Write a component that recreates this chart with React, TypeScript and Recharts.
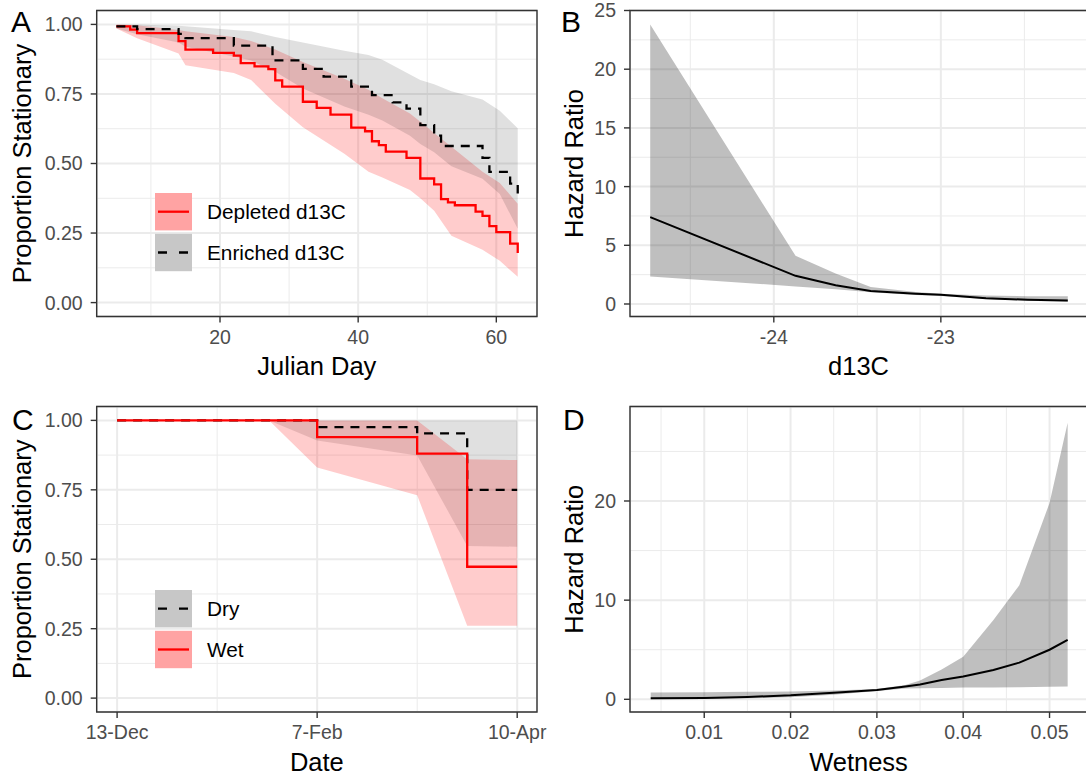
import React from 'react';
import {
  ComposedChart,
  Line,
  Area,
  XAxis,
  YAxis,
  CartesianGrid,
  ReferenceArea,
  Legend,
  Label,
} from 'recharts';

const FONT = '"Liberation Sans", Arial, Helvetica, sans-serif';

// ---------------- Panel A : Kaplan-Meier by d13C ----------------
const aDepletedDays = [5, 7, 8, 14, 15, 19, 22, 23, 25, 27, 28, 29, 32, 34, 36, 39, 41, 42, 43, 44, 47, 49, 51, 52, 53, 54, 57, 58, 59, 60, 62, 63.1];
const aDepletedSurv = [0.993, 0.981, 0.969, 0.94, 0.909, 0.898, 0.888, 0.861, 0.849, 0.839, 0.799, 0.776, 0.722, 0.7, 0.676, 0.629, 0.616, 0.58, 0.566, 0.543, 0.52, 0.446, 0.425, 0.372, 0.36, 0.35, 0.327, 0.312, 0.275, 0.253, 0.212, 0.178];
const aEnrichedDays = [5, 8, 14, 15, 22, 27.6, 32, 35, 39, 42, 45, 47, 49, 51, 52, 58, 59, 62, 63.1];
const aEnrichedSurv = [0.993, 0.983, 0.966, 0.951, 0.924, 0.871, 0.84, 0.812, 0.776, 0.746, 0.72, 0.697, 0.638, 0.6, 0.563, 0.52, 0.47, 0.428, 0.392];
const aBandDays = [5, 8, 14, 15, 22, 24.5, 28, 32, 38, 41.5, 43.5, 47.5, 49, 51, 53.5, 58, 60.5, 63.1];
const aDepletedHi = [1.0, 0.997, 0.98, 0.975, 0.955, 0.94, 0.91, 0.865, 0.805, 0.765, 0.735, 0.68, 0.65, 0.61, 0.56, 0.47, 0.43, 0.355];
const aDepletedLo = [0.985, 0.95, 0.895, 0.853, 0.825, 0.8, 0.715, 0.63, 0.535, 0.47, 0.45, 0.405, 0.375, 0.33, 0.24, 0.19, 0.15, 0.093];
const aEnrichedHi = [1.0, 1.0, 0.995, 0.993, 0.98, 0.975, 0.955, 0.935, 0.905, 0.89, 0.873, 0.82, 0.8, 0.785, 0.76, 0.73, 0.69, 0.627];
const aEnrichedLo = [0.985, 0.965, 0.935, 0.92, 0.885, 0.87, 0.83, 0.77, 0.705, 0.675, 0.655, 0.6, 0.57, 0.54, 0.49, 0.445, 0.39, 0.265];
const aXTicks = [20, 40, 60];
const aYTicks = [0, 0.25, 0.5, 0.75, 1];

// ---------------- Panel B : hazard ratio vs d13C ----------------
const bD13C = [-24.74, -23.87, -23.63, -23.42, -23.15, -23.0, -22.73, -22.48, -22.24];
const bHazard = [7.4, 2.4, 1.6, 1.1, 0.88, 0.78, 0.5, 0.36, 0.3];
const bHazardHi = [23.8, 4.1, 2.6, 1.45, 1.02, 0.88, 0.72, 0.66, 0.65];
const bHazardLo = [2.35, 1.5, 1.25, 1.0, 0.76, 0.68, 0.42, 0.28, 0.2];
const bXTicks = [-24, -23];
const bYTicks = [0, 5, 10, 15, 20, 25];

// ---------------- Panel C : Kaplan-Meier by wetness class ----------------
const cDateLabels = ['13-Dec', '7-Feb', '10-Apr'];
const cDateTicks = [0, 2, 4];
const cStepX = [0, 2, 3, 3.5, 4];
const cDrySurv = [1, 0.976, 0.953, 0.75, 0.75];
const cWetSurv = [1, 0.94, 0.88, 0.473, 0.473];
const cBandX = [0, 1.52, 2, 3, 3.5, 4];
const cDryHi = [1, 1, 1, 1, 1, 1];
const cDryLo = [1, 1, 0.928, 0.874, 0.548, 0.545];
const cWetHi = [1, 1, 1, 1, 0.86, 0.857];
const cWetLo = [1, 1, 0.83, 0.73, 0.261, 0.261];

// ---------------- Panel D : hazard ratio vs wetness ----------------
const dWetness = [0.0038, 0.01, 0.015, 0.02, 0.025, 0.03, 0.0333, 0.035, 0.0375, 0.04, 0.0435, 0.0465, 0.05, 0.0521];
const dHazard = [0.1, 0.14, 0.24, 0.4, 0.67, 0.95, 1.3, 1.5, 1.95, 2.3, 2.95, 3.7, 5.0, 6.0];
const dHazardHi = [0.68, 0.72, 0.75, 0.8, 0.88, 1.05, 1.45, 1.9, 3.0, 4.3, 8.0, 11.5, 19.8, 27.9];
const dHazardLo = [0.0, 0.03, 0.1, 0.2, 0.45, 0.85, 1.08, 1.12, 1.15, 1.18, 1.2, 1.22, 1.26, 1.28];
const dXTicks = [0.01, 0.02, 0.03, 0.04, 0.05];
const dYTicks = [0, 10, 20];

// ---------------- helpers ----------------
const pts = (xs: number[], ys: number[]) => xs.map((x, i) => ({ x, y: ys[i] }));
const band = (xs: number[], lo: number[], hi: number[]) => xs.map((x, i) => ({ x, lo: lo[i], hi: hi[i] }));
const rangeKey = (d: any) => [d.lo, d.hi];

const tickStyle = { fill: '#4D4D4D', fontSize: 19.5, fontFamily: FONT };
const tickLineStyle = { stroke: '#333333', strokeWidth: 1.4 };
const TITLE_SIZE = 25.5;

type LegendItem = { label: string; fill: string; stroke: string; dash?: string };

function KeyLegend({ items }: { items: LegendItem[] }) {
  return (
    <svg width={260} height={items.length * 41} style={{ display: 'block', overflow: 'visible' }}>
      {items.map((it, i) => (
        <g key={it.label} transform={`translate(0, ${i * 40.8})`}>
          <rect x={0} y={0} width={37} height={37.4} fill={it.fill} />
          <line x1={3} x2={34} y1={18.7} y2={18.7} stroke={it.stroke} strokeWidth={2.3} strokeDasharray={it.dash} />
          <text x={52} y={18.7} dy="0.36em" fontSize={20.8} fontFamily={FONT} fill="#000">
            {it.label}
          </text>
        </g>
      ))}
    </svg>
  );
}

type PanelSpec = {
  left: number;
  top: number;
  width: number;
  height: number;
  plot: { left: number; right: number; top: number; bottom: number };
  xDomain: [number, number];
  yDomain: [number, number];
  xTicks: number[];
  yTicks: number[];
  xMinor: number[];
  yMinor: number[];
  xFmt: (v: number) => string;
  yFmt: (v: number) => string;
  xTitle: string;
  yTitle: string;
  yTitleX: number;
  letter: string;
  letterX: number;
  letterY: number;
  children: React.ReactNode;
};

function Panel(p: PanelSpec) {
  const xAxisH = 40;
  const margin = {
    top: p.plot.top,
    right: p.width - p.plot.right,
    bottom: p.height - p.plot.bottom - xAxisH,
    left: 0,
  };
  const cx = (p.plot.left + p.plot.right) / 2;
  const cy = (p.plot.top + p.plot.bottom) / 2;
  return (
    <div style={{ position: 'absolute', left: p.left, top: p.top, width: p.width, height: p.height }}>
      <ComposedChart width={p.width} height={p.height} margin={margin}>
        <CartesianGrid stroke="#EBEBEB" strokeWidth={1} horizontalValues={p.yMinor} verticalValues={p.xMinor} />
        <CartesianGrid stroke="#EBEBEB" strokeWidth={2} />
        <XAxis
          type="number"
          dataKey="x"
          domain={p.xDomain}
          allowDataOverflow
          ticks={p.xTicks}
          interval={0}
          tickFormatter={p.xFmt}
          axisLine={false}
          tickLine={tickLineStyle}
          tickSize={6}
          tickMargin={7.5}
          tick={tickStyle}
          height={xAxisH}
        >
          <Label
            content={() => (
              <text x={cx} y={p.plot.bottom + 58.5} textAnchor="middle" fontSize={TITLE_SIZE} fontFamily={FONT} fill="#000">
                {p.xTitle}
              </text>
            )}
          />
        </XAxis>
        <YAxis
          type="number"
          domain={p.yDomain}
          allowDataOverflow
          ticks={p.yTicks}
          interval={0}
          tickFormatter={p.yFmt}
          axisLine={false}
          tickLine={tickLineStyle}
          tickSize={6}
          tickMargin={8}
          tick={tickStyle}
          width={p.plot.left}
        >
          <Label
            content={() => (
              <g>
                <text
                  x={p.yTitleX}
                  y={cy}
                  transform={`rotate(-90, ${p.yTitleX}, ${cy})`}
                  textAnchor="middle"
                  fontSize={TITLE_SIZE}
                  fontFamily={FONT}
                  fill="#000"
                >
                  {p.yTitle}
                </text>
                <text x={p.letterX} y={p.letterY} fontSize={30} fontFamily={FONT} fill="#000">
                  {p.letter}
                </text>
              </g>
            )}
          />
        </YAxis>
        {p.children}
        <ReferenceArea
          x1={p.xDomain[0]}
          x2={p.xDomain[1]}
          y1={p.yDomain[0]}
          y2={p.yDomain[1]}
          fill="none"
          fillOpacity={0}
          stroke="#333333"
          strokeWidth={1.4}
          ifOverflow="visible"
        />
      </ComposedChart>
    </div>
  );
}

const fixed2 = (v: number) => v.toFixed(2);
const plain = (v: number) => String(v);

export default function App() {
  const aDepletedBand = band(aBandDays, aDepletedLo, aDepletedHi);
  const aEnrichedBand = band(aBandDays, aEnrichedLo, aEnrichedHi);
  const bBand = band(bD13C, bHazardLo, bHazardHi);
  const dBand = band(dWetness, dHazardLo, dHazardHi);
  const cDryBand = band(cBandX, cDryLo, cDryHi);
  const cWetBand = band(cBandX, cWetLo, cWetHi);

  const legendA: LegendItem[] = [
    { label: 'Depleted d13C', fill: '#FFA3A3', stroke: '#FF0000' },
    { label: 'Enriched d13C', fill: '#C7C7C7', stroke: '#000000', dash: '9 12' },
  ];
  const legendC: LegendItem[] = [
    { label: 'Dry', fill: '#C7C7C7', stroke: '#000000', dash: '9 12' },
    { label: 'Wet', fill: '#FFA3A3', stroke: '#FF0000' },
  ];

  const topPlot = { top: 10.5, bottom: 316.5 };
  const botPlot = { top: 16.5, bottom: 322 };

  return (
    <div
      style={{
        position: 'absolute',
        left: 0,
        top: 0,
        width: 1086,
        height: 783,
        overflow: 'hidden',
        background: '#FFFFFF',
        fontFamily: FONT,
      }}
    >
      {/* Panel A */}
      <Panel
        left={0}
        top={0}
        width={550}
        height={390}
        plot={{ left: 96.7, right: 537, ...topPlot }}
        xDomain={[2.15, 65.89]}
        yDomain={[-0.05, 1.05]}
        xTicks={aXTicks}
        yTicks={aYTicks}
        xMinor={[10, 30, 50]}
        yMinor={[0.125, 0.375, 0.625, 0.875]}
        xFmt={plain}
        yFmt={fixed2}
        xTitle="Julian Day"
        yTitle="Proportion Stationary"
        yTitleX={31}
        letter="A"
        letterX={11}
        letterY={32}
      >
        <Area data={aDepletedBand} dataKey={rangeKey} type="linear" stroke="none" fill="#FF0000" fillOpacity={0.2} isAnimationActive={false} dot={false} activeDot={false} />
        <Area data={aEnrichedBand} dataKey={rangeKey} type="linear" stroke="none" fill="#000000" fillOpacity={0.12} isAnimationActive={false} dot={false} activeDot={false} />
        <Line data={pts(aDepletedDays, aDepletedSurv)} dataKey="y" type="stepAfter" stroke="#FF0000" strokeWidth={2.3} dot={false} activeDot={false} isAnimationActive={false} />
        <Line data={pts(aEnrichedDays, aEnrichedSurv)} dataKey="y" type="stepAfter" stroke="#000000" strokeWidth={2.3} strokeDasharray="9 7" dot={false} activeDot={false} isAnimationActive={false} />
        <Legend
          layout="vertical"
          align="center"
          verticalAlign="middle"
          wrapperStyle={{ left: 155.4, top: 193.3, width: 260, height: 82 }}
          content={() => <KeyLegend items={legendA} />}
        />
      </Panel>

      {/* Panel B */}
      <Panel
        left={545}
        top={0}
        width={545}
        height={390}
        plot={{ left: 85, right: 542, ...topPlot }}
        xDomain={[-24.861, -22.125]}
        yDomain={[-1.065, 25]}
        xTicks={bXTicks}
        yTicks={bYTicks}
        xMinor={[-24.5, -23.5, -22.5]}
        yMinor={[2.5, 7.5, 12.5, 17.5, 22.5]}
        xFmt={plain}
        yFmt={plain}
        xTitle="d13C"
        yTitle="Hazard Ratio"
        yTitleX={37.5}
        letter="B"
        letterX={16}
        letterY={32}
      >
        <Area data={bBand} dataKey={rangeKey} type="linear" stroke="none" fill="#000000" fillOpacity={0.25} isAnimationActive={false} dot={false} activeDot={false} />
        <Line data={pts(bD13C, bHazard)} dataKey="y" type="linear" stroke="#000000" strokeWidth={2} dot={false} activeDot={false} isAnimationActive={false} />
      </Panel>

      {/* Panel C */}
      <Panel
        left={0}
        top={390}
        width={550}
        height={393}
        plot={{ left: 96.7, right: 537, ...botPlot }}
        xDomain={[-0.204, 4.198]}
        yDomain={[-0.05, 1.05]}
        xTicks={cDateTicks}
        yTicks={aYTicks}
        xMinor={[1, 3]}
        yMinor={[0.125, 0.375, 0.625, 0.875]}
        xFmt={(v: number) => cDateLabels[cDateTicks.indexOf(v)] ?? ''}
        yFmt={fixed2}
        xTitle="Date"
        yTitle="Proportion Stationary"
        yTitleX={31}
        letter="C"
        letterX={12}
        letterY={40}
      >
        <Area data={cDryBand} dataKey={rangeKey} type="linear" stroke="none" fill="#000000" fillOpacity={0.12} isAnimationActive={false} dot={false} activeDot={false} />
        <Area data={cWetBand} dataKey={rangeKey} type="linear" stroke="none" fill="#FF0000" fillOpacity={0.2} isAnimationActive={false} dot={false} activeDot={false} />
        <Line data={pts(cStepX, cDrySurv)} dataKey="y" type="stepAfter" stroke="#000000" strokeWidth={2.3} strokeDasharray="9 7" dot={false} activeDot={false} isAnimationActive={false} />
        <Line data={pts(cStepX, cWetSurv)} dataKey="y" type="stepAfter" stroke="#FF0000" strokeWidth={2.3} dot={false} activeDot={false} isAnimationActive={false} />
        <Legend
          layout="vertical"
          align="center"
          verticalAlign="middle"
          wrapperStyle={{ left: 155.4, top: 200, width: 260, height: 82 }}
          content={() => <KeyLegend items={legendC} />}
        />
      </Panel>

      {/* Panel D */}
      <Panel
        left={545}
        top={390}
        width={545}
        height={393}
        plot={{ left: 85, right: 542, ...botPlot }}
        xDomain={[0.0014, 0.05434]}
        yDomain={[-1.28, 29.53]}
        xTicks={dXTicks}
        yTicks={dYTicks}
        xMinor={[0.005, 0.015, 0.025, 0.035, 0.045]}
        yMinor={[5, 15, 25]}
        xFmt={fixed2}
        yFmt={plain}
        xTitle="Wetness"
        yTitle="Hazard Ratio"
        yTitleX={37.5}
        letter="D"
        letterX={18}
        letterY={40}
      >
        <Area data={dBand} dataKey={rangeKey} type="linear" stroke="none" fill="#000000" fillOpacity={0.25} isAnimationActive={false} dot={false} activeDot={false} />
        <Line data={pts(dWetness, dHazard)} dataKey="y" type="linear" stroke="#000000" strokeWidth={2} dot={false} activeDot={false} isAnimationActive={false} />
      </Panel>
    </div>
  );
}
